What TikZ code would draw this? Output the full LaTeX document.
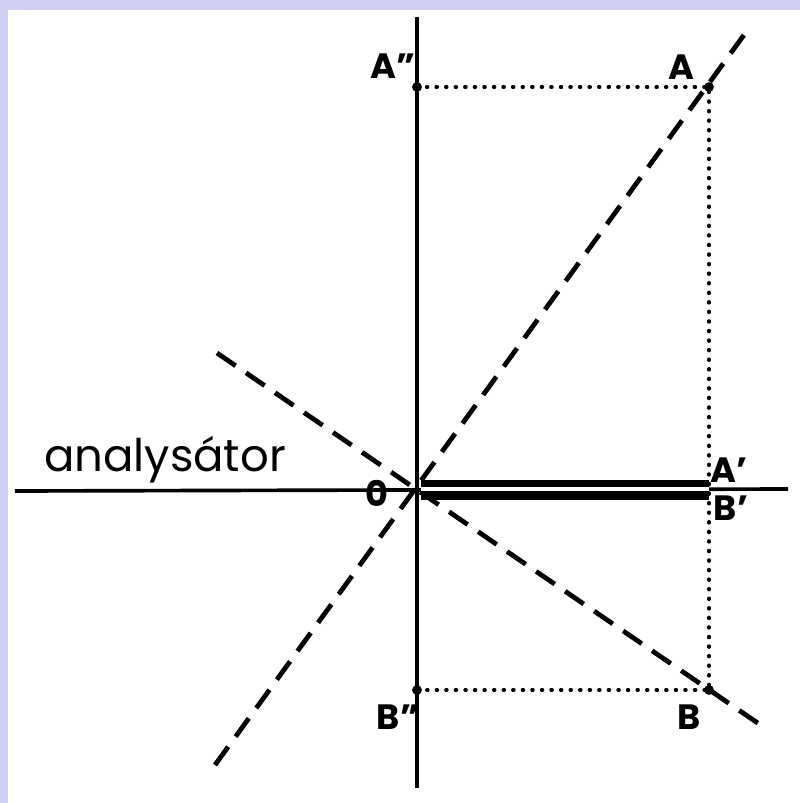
\documentclass[tikz,border=0pt]{standalone}
\usepackage{fontspec}
\newfontfamily\handfont{Poppins}
\usetikzlibrary{positioning,calc}
\definecolor{FrameLilac}{RGB}{208,208,245}

\begin{document}
\begin{tikzpicture}[x=0.025cm,y=-0.025cm,
  axis/.style={line width=2.6pt},
  ray/.style={line width=3.4pt,dash pattern=on 16pt off 9pt},
  proj/.style={line width=2.4pt,line cap=round,dash pattern=on 0.8pt off 6pt},
  bar/.style={line width=5pt},
  pt/.style={circle,fill,inner sep=0pt,minimum size=7pt},
  lbl/.style={font=\handfont\bfseries\fontsize{25}{25}\selectfont,inner sep=0pt}]
  \fill[FrameLilac] (0,0) rectangle (800,803);
  \fill[white] (8,10) rectangle (800,803);
  % points
  \coordinate (O) at (417,490);
  \coordinate (A) at (709,87);
  \coordinate (A2) at (417,87);
  \coordinate (B) at (709,690);
  \coordinate (B2) at (417,690);
  \coordinate (AB1) at (709,490);
  % axes
  \coordinate (xl) at (15,491);
  \coordinate (xr) at (788,489);
  \coordinate (yt) at (417,17);
  \coordinate (yb) at (417,788);
  \draw[axis] (xl) -- (xr);
  \draw[axis] (yt) -- (yb);
  % the two dashed directions
  \coordinate (r1s) at (215,765);
  \coordinate (r1e) at (749,28);
  \coordinate (r2s) at (217,353);
  \coordinate (r2e) at (765,728);
  \draw[ray] (r1s) -- (r1e);
  \draw[ray] (r2s) -- (r2e);
  % projections
  \draw[proj] (A2) -- (A) -- (B) -- (B2);
  \fill[white] ($(O)+(4,-3)$) rectangle ($(AB1)+(0,3)$);
  \draw[bar] ($(O)+(4,-6.5)$) -- ($(AB1)+(0,-6.5)$);
  \draw[bar,line width=6.2pt] ($(O)+(4,5.5)$) -- ($(AB1)+(0,5.5)$);
  \foreach \p in {A,A2,B,B2}
    \node[pt] at (\p) {};
  % labels
  \node[font=\handfont\fontsize{32}{32}\selectfont,inner sep=0pt] (an) at (165,460) {analysátor};
  \node[lbl] (lO) at (377,493) {0};
  \node[lbl] (lA2) at (393,66) {A”};
  \node[lbl] (lA) at (681,67) {A};
  \node[lbl] (lA1) at (729,470) {A’};
  \node[lbl] (lB1) at (731,508) {B’};
  \node[lbl] (lB2) at (398,717) {B”};
  \node[lbl] (lB) at (689,717) {B};
\end{tikzpicture}
\end{document}
